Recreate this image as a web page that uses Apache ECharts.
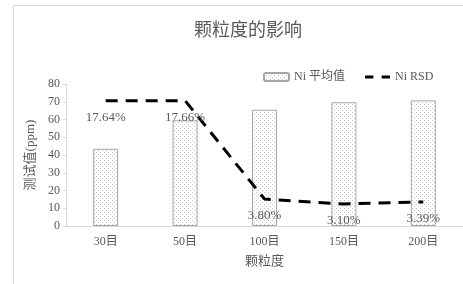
<!DOCTYPE html>
<html>
<head>
<meta charset="utf-8">
<script src="https://cdn.jsdelivr.net/npm/echarts@6/dist/echarts.min.js"></script>
<style>
  html, body { margin: 0; padding: 0; background: #fff; }
  #chart { width: 463px; height: 284px; }
</style>
</head>
<body>
<div id="chart"></div>
<script>
// 颗粒度 categories
var categories = ['30目', '50目', '100目', '150目', '200目'];
// Ni 平均值 (ppm)
var niMean = [43.5, 59.5, 65.5, 69.7, 70.8];
// Ni RSD (%)
var niRsd = [17.64, 17.66, 3.80, 3.10, 3.39];
var yTicks = [0, 80, 10];

var txt = '#595959';
var font = "'Liberation Serif', 'Noto Sans CJK SC', serif";

// dotted fill like the excel pattern
function makeDots() {
  var c = document.createElement('canvas');
  c.width = 4; c.height = 4;
  var ctx = c.getContext('2d');
  ctx.fillStyle = '#ffffff';
  ctx.fillRect(0, 0, 4, 4);
  ctx.fillStyle = '#c4c4c4';
  ctx.fillRect(0, 0, 1, 1);
  ctx.fillRect(2, 2, 1, 1);
  return c;
}
var dots = { image: makeDots(), repeat: 'repeat' };

var chart = echarts.init(document.getElementById('chart'));
chart.setOption({
  animation: false,
  textStyle: { fontFamily: font, color: txt },
  title: {
    text: '颗粒度的影响',
    left: 243,
    textAlign: 'center',
    top: 17,
    textStyle: { fontSize: 18, fontWeight: 'normal', color: txt, fontFamily: font }
  },
  graphic: [{
    type: 'polyline',
    shape: { points: [[13.5, 290], [13.5, 5.5], [470, 5.5]] },
    style: { stroke: '#d9d9d9', lineWidth: 1, fill: null },
    silent: true
  }],
  legend: {
    left: 258,
    top: 66,
    itemGap: 20,
    itemWidth: 25,
    itemHeight: 8,
    textStyle: { fontSize: 12, color: txt, fontFamily: font },
    data: [
      { name: 'Ni 平均值' },
      {
        name: 'Ni RSD',
        icon: 'path://M0,0h8v3h-8z M16,0h8v3h-8z',
        itemStyle: { color: '#000', opacity: 1, borderWidth: 0 }
      }
    ]
  },
  grid: { left: 66, right: 0, top: 84, bottom: 58 },
  xAxis: {
    type: 'category',
    data: categories,
    name: '颗粒度',
    nameLocation: 'middle',
    nameGap: 29,
    nameTextStyle: { fontSize: 13, color: txt, fontFamily: font },
    axisLine: { lineStyle: { color: '#d9d9d9' } },
    axisTick: { show: false },
    axisLabel: { fontSize: 12, color: txt, margin: 10 }
  },
  yAxis: [{
    type: 'value',
    min: yTicks[0],
    max: yTicks[1],
    interval: yTicks[2],
    name: '测试值(ppm)',
    nameLocation: 'middle',
    nameGap: 22,
    nameTextStyle: { fontSize: 13, color: txt, fontFamily: font },
    axisLine: { show: true, lineStyle: { color: '#d9d9d9' } },
    axisTick: { show: true, length: 3, lineStyle: { color: '#d9d9d9' } },
    splitLine: { show: false },
    axisLabel: { fontSize: 12, color: txt, margin: 6 }
  }, {
    type: 'value',
    min: 0,
    max: 20,
    show: false,
    splitLine: { show: false }
  }],
  series: [{
    name: 'Ni 平均值',
    type: 'bar',
    data: niMean,
    barWidth: 25,
    itemStyle: { color: dots, borderColor: '#a6a6a6', borderWidth: 1 }
  }, {
    name: 'Ni RSD',
    type: 'line',
    yAxisIndex: 1,
    data: niRsd,
    symbol: 'circle',
    symbolSize: 1,
    itemStyle: { color: 'rgba(0,0,0,0)' },
    lineStyle: { color: '#000', width: 3, type: [12, 8] },
    label: {
      show: true,
      position: 'inside',
      offset: [0, 17],
      fontSize: 13,
      color: txt,
      fontFamily: font,
      formatter: function (p) { return p.value.toFixed(2) + '%'; }
    },
    z: 5
  }]
});
</script>
</body>
</html>
